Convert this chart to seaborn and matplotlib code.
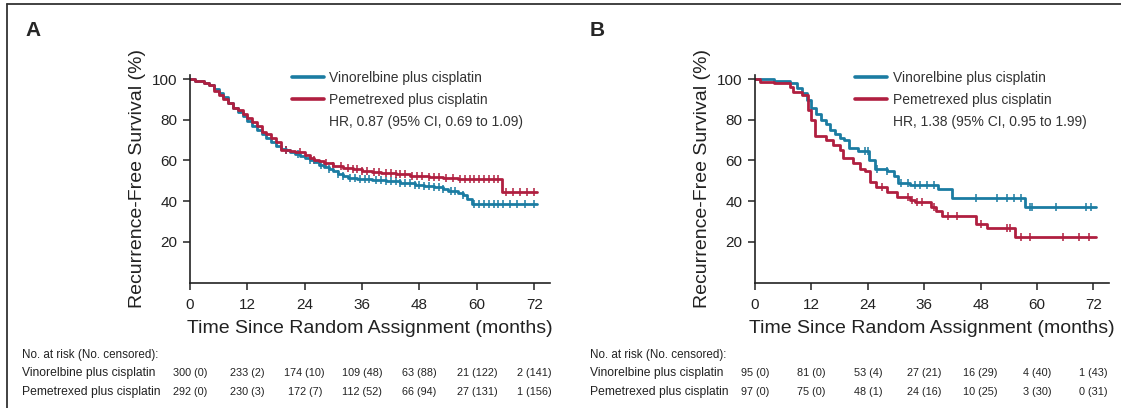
import numpy as np
import seaborn as sns
import matplotlib.pyplot as plt
from matplotlib.lines import Line2D

# Kaplan-Meier step points (time in months, survival in %)
# Panel A
a_vin_t = [0, 1, 3, 4, 5, 6, 7, 8, 9, 10, 11, 12, 13, 14, 15, 16, 17, 18, 19, 20, 21, 22, 23, 24,
           25, 26, 27, 28, 29, 30, 31, 32, 33, 35, 38, 41, 44, 47, 49, 51, 53, 54, 56, 57, 58, 59, 72.6]
a_vin_s = [100, 99, 98, 97, 95, 93, 91, 88, 86, 84, 82, 79.5, 77, 75, 73, 71, 69, 67, 65.5, 65, 64, 63, 62, 61,
           60, 59, 58, 57, 56, 55, 53.5, 52.5, 51.5, 51, 50.5, 50, 49, 48, 47.5, 47, 46, 45, 44, 43, 41, 38.5, 38.5]
a_pem_t = [0, 1, 3, 4, 5, 6, 7, 8, 9, 10, 11, 12, 13, 14, 15, 16, 17, 18, 19, 21, 22, 24, 25, 26,
           27, 28, 30, 32, 34, 36, 38, 40, 43, 46, 50, 53, 56, 65.2, 72.6]
a_pem_s = [100, 99, 98, 97, 94, 92, 90, 88, 86, 85, 83, 81, 79, 77, 74, 73, 71, 69, 65, 64.5, 64, 62.5, 61, 60,
           59.5, 58.5, 57.5, 56.5, 56, 55, 54.5, 54, 53.5, 52.5, 52, 51.5, 51, 44.5, 44.5]
a_vin_cens = [20, 22.5, 25, 27.5, 29, 31, 32, 33.5, 34.5, 35.5, 36.5, 37.5, 39, 40, 41, 42, 43, 44, 45, 46,
              47, 48, 49, 50, 51, 52, 53, 54.5, 55.5, 57, 59.5, 60.5, 61.5, 62.5, 63.5, 64.5, 65.5, 67, 68.5, 70, 72]
a_pem_cens = [20, 23, 26, 28.5, 30, 31.5, 33, 34, 35, 36, 37, 38.5, 39.5, 41, 42, 43, 44, 45, 46.5, 47.5,
              48.5, 50, 51, 52, 53.5, 55, 56.5, 57.5, 58.5, 59.5, 60.5, 61.5, 62.5, 63.5, 64.5, 66, 67.5, 69, 70.5, 72]

# Panel B
b_vin_t = [0, 4, 7.5, 9, 10, 11, 12, 13, 14, 15, 16, 17, 18, 19, 20, 22, 24.3, 25.5, 28, 29.5, 30.5,
           33, 39, 42, 57.5, 72.6]
b_vin_s = [100, 99, 98, 95.5, 93, 89.5, 86, 83, 80, 78, 75, 73, 71, 70, 66, 64.5, 60, 56, 55, 52.5, 49,
           48, 46, 41.5, 37, 37]
b_pem_t = [0, 1, 4, 7.4, 8, 10, 11.3, 12, 12.7, 15.2, 16.6, 18, 18.7, 20.8, 22.3, 23.4, 24.4, 25.8, 28,
           30.1, 32.9, 34, 37.4, 38.6, 39.7, 47, 49.3, 55.4, 72.6]
b_pem_s = [100, 98.5, 98, 96, 93.5, 92, 85, 80, 72, 70, 67.5, 65, 61, 58.5, 56, 55, 49.5, 47, 44.5,
           42, 40.5, 39.5, 37, 35, 32.5, 29, 26.7, 22.3, 22.3]
b_vin_cens = [23.5, 24, 26, 28, 31, 32.5, 34, 35, 36.5, 38, 47, 51.5, 53.5, 55, 56.5, 58.5, 59, 64, 70.5, 71.5]
b_pem_cens = [27, 32.5, 33.5, 34.5, 35.5, 38, 41, 43, 48, 53.5, 54.2, 56.5, 58.5, 65.5, 69, 71]

hr_text = ["HR, 0.87 (95% CI, 0.69 to 1.09)", "HR, 1.38 (95% CI, 0.95 to 1.99)"]
arms = ["Vinorelbine plus cisplatin", "Pemetrexed plus cisplatin"]
months = [0, 12, 24, 36, 48, 60, 72]
a_risk_vin = ["300 (0)", "233 (2)", "174 (10)", "109 (48)", "63 (88)", "21 (122)", "2 (141)"]
a_risk_pem = ["292 (0)", "230 (3)", "172 (7)", "112 (52)", "66 (94)", "27 (131)", "1 (156)"]
b_risk_vin = ["95 (0)", "81 (0)", "53 (4)", "27 (21)", "16 (29)", "4 (40)", "1 (43)"]
b_risk_pem = ["97 (0)", "75 (0)", "48 (1)", "24 (16)", "10 (25)", "3 (30)", "0 (31)"]

BLUE = "#1b7ca2"
RED = "#b01f40"

sns.set_style("white")
plt.rcParams["font.family"] = ["Liberation Sans", "DejaVu Sans"]

fig = plt.figure(figsize=(11.21, 4.08), dpi=100)


def step_at(t, s, c):
    i = np.searchsorted(t, c, side="right") - 1
    return np.asarray(s)[i]


panels = [
    dict(rect=[190 / 1121, 1 - 282.5 / 408, 360 / 1121, 207.5 / 408], letter="A", lx=25,
         vin=(a_vin_t, a_vin_s, a_vin_cens), pem=(a_pem_t, a_pem_s, a_pem_cens),
         hr=hr_text[0], risk=(a_risk_vin, a_risk_pem), tx=22),
    dict(rect=[755 / 1121, 1 - 282.5 / 408, 354 / 1121, 207.5 / 408], letter="B", lx=590,
         vin=(b_vin_t, b_vin_s, b_vin_cens), pem=(b_pem_t, b_pem_s, b_pem_cens),
         hr=hr_text[1], risk=(b_risk_vin, b_risk_pem), tx=590),
]

for p in panels:
    ax = fig.add_axes(p["rect"])
    handles = []
    for (t, s, cens), col in [(p["vin"], BLUE), (p["pem"], RED)]:
        sns.lineplot(x=t, y=s, drawstyle="steps-post", estimator=None, color=col,
                     linewidth=2.0, ax=ax)
        cy = [step_at(t, s, c) for c in cens]
        sns.scatterplot(x=cens, y=cy, marker="|", s=32, linewidth=1.1, color=col, ax=ax)
        handles.append(Line2D([], [], color=col, linewidth=2.6))
    handles.append(Line2D([], [], color="none"))
    ax.legend(handles, arms + [p["hr"]], loc="upper left", bbox_to_anchor=(0.283, 1.02),
              frameon=False, fontsize=10, handlelength=2.3, handletextpad=0.4,
              labelspacing=0.58, borderpad=0, borderaxespad=0, labelcolor="#333333")

    ax.set_xlim(0, 75.3)
    ax.set_ylim(0, 102)
    ax.set_xticks(months)
    ax.set_yticks([20, 40, 60, 80, 100])
    sns.despine(ax=ax)
    for side in ["left", "bottom"]:
        ax.spines[side].set_color("#222222")
        ax.spines[side].set_linewidth(1.2)
    ax.tick_params(direction="out", length=5, width=1.1, labelsize=11, colors="#222222",
                   left=True, bottom=True)
    ax.tick_params(axis="x", pad=6)
    ax.tick_params(axis="y", pad=4)
    ax.set_xlabel("Time Since Random Assignment (months)", fontsize=14, color="#222222",
                  labelpad=6)
    ax.set_ylabel("Recurrence-Free Survival (%)", fontsize=14, color="#222222", labelpad=4)

    fig.text(p["lx"] / 1121, 1 - 30 / 408, p["letter"], fontsize=15, fontweight="bold",
             va="center", ha="left")
    fig.text(p["tx"] / 1121, 1 - 355 / 408, "No. at risk (No. censored):", fontsize=8.4,
             va="center", ha="left", color="#222222")
    for row, (name, vals) in enumerate(zip(arms, p["risk"])):
        yy = 1 - (373 + 19 * row) / 408
        fig.text(p["tx"] / 1121, yy, name, fontsize=8.7, va="center", ha="left", color="#222222")
        for m, v in zip(months, vals):
            xx = ax.transData.transform((m, 0))[0] / fig.bbox.width
            fig.text(xx, yy, v, fontsize=7.8, va="center", ha="center", color="#222222")

# frame lines at top and left of the figure
fig.add_artist(Line2D([7 / 1121, 7 / 1121], [0, 1 - 4 / 408], color="#333333", linewidth=1.3))
fig.add_artist(Line2D([7 / 1121, 1], [1 - 4 / 408, 1 - 4 / 408], color="#333333", linewidth=1.3))

fig.savefig("out.png", dpi=100)
